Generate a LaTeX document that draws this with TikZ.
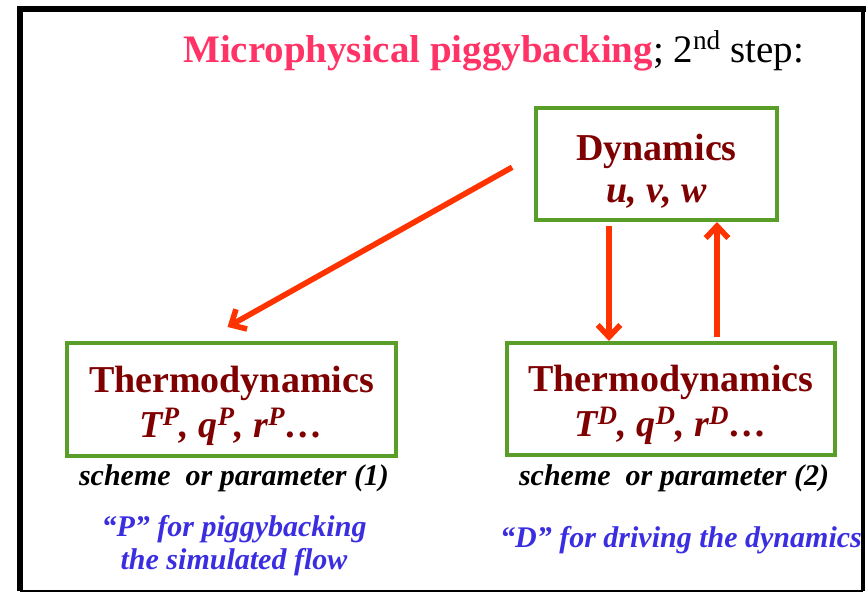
\documentclass[tikz,border=0pt]{standalone}
\usepackage{fontspec}
\setmainfont{Liberation Serif}
\usetikzlibrary{arrows.meta,positioning,calc}
\definecolor{titlepink}{HTML}{FF3366}
\definecolor{boxgreen}{HTML}{5A9E2A}
\definecolor{varred}{HTML}{7F0000}
\definecolor{flowred}{HTML}{FF3300}
\definecolor{noteblue}{HTML}{3A2EE0}

\begin{document}
\begin{tikzpicture}[x=0.75pt,y=-0.75pt,
  box/.style={draw=boxgreen,line width=3pt,text=varred,align=center,inner sep=0pt,text depth=0pt},
  flow/.style={flowred,line width=4.2pt,-{Straight Barb[length=9pt,width=17pt]}},
  caption/.style={font=\fontsize{22.5}{24.75}\selectfont\bfseries\itshape,align=center,inner sep=0pt}]
\useasboundingbox (0,0) rectangle (868,593);
% frame
\draw[line width=4.5pt] (20,591)--(20,9)--(866,9);
\draw[line width=3pt] (863,9)--(863,591);
\draw[line width=1.5pt] (20,591)--(863,591);
% title
\node[anchor=base west,inner sep=0pt,font=\fontsize{29.2}{30}\selectfont] (title) at (183,62)
  {\textcolor{titlepink}{\bfseries Microphysical piggybacking}; 2\textsuperscript{nd} step:};
% boxes
\node[box,minimum width=180.75pt,minimum height=84pt,text height=57pt,font=\fontsize{28.5}{31.5}\selectfont\bfseries] (dyn) at (656.5,164)
  {Dynamics\\\textit{u, v, w}};
\node[box,minimum width=246.75pt,minimum height=84.75pt,text height=56.5pt,font=\fontsize{28.5}{33.75}\selectfont\bfseries] (thP) at (231.5,399.5)
  {Thermodynamics\\\textit{T\textsuperscript{P}, q\textsuperscript{P}, r\textsuperscript{P}\ldots}};
\node[box,minimum width=246pt,minimum height=84pt,text height=56.5pt,font=\fontsize{28.5}{33.75}\selectfont\bfseries] (thD) at (671,399)
  {Thermodynamics\\\textit{T\textsuperscript{D}, q\textsuperscript{D}, r\textsuperscript{D}\ldots}};
% captions
\node[caption,anchor=base] (schP) at (234,485) {scheme\ \ or parameter (1)};
\node[caption,anchor=base] (schD) at (674,485) {scheme\ \ or parameter (2)};
\node[caption,text=noteblue,anchor=north] (noteP) at (234,515) {``P'' for piggybacking\\the simulated flow};
\node[caption,text=noteblue,anchor=base] (noteD) at (681,547) {``D'' for driving the dynamics};
% arrows
\coordinate (downx) at (609,0);
\coordinate (upx) at (717,0);
\draw[flow,shorten <=18.8pt,shorten >=21.5pt] ($(dyn.west)+(0,-9)$) -- ($(thP.north)+(-29,0)$);
\draw[flow,shorten <=3pt] (dyn.south -| downx) -- (thD.north -| downx);
\draw[flow,shorten <=3pt] (thD.north -| upx) -- (dyn.south -| upx);
\end{tikzpicture}
\end{document}
